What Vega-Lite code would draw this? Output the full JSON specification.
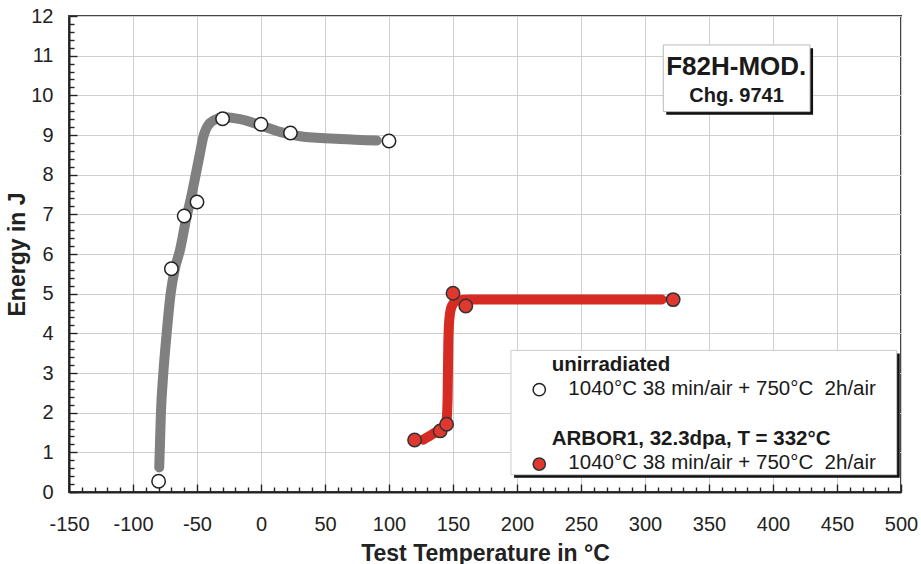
{
  "$schema": "https://vega.github.io/schema/vega-lite/v6.json",
  "width": 832,
  "height": 476,
  "autosize": {"type": "none"},
  "padding": {"left": 69, "top": 16, "right": 20, "bottom": 72},
  "background": "white",
  "config": {
    "font": "Liberation Sans",
    "view": {"stroke": "#444", "strokeWidth": 2},
    "axis": {"gridColor": "#cfcfcf", "gridWidth": 1, "domainColor": "#222", "domainWidth": 2, "tickColor": "#222", "tickWidth": 1.4, "labelFont": "Liberation Sans", "labelFontSize": 20, "labelColor": "#222", "titleFont": "Liberation Sans", "titleFontSize": 23, "titleFontWeight": "bold", "titleColor": "#222"}
  },
  "resolve": {"axis": {"x": "independent", "y": "independent"}},
  "datasets": {
    "unirr_pts": [
      {"T": -80, "E": 0.27}, {"T": -70, "E": 5.63}, {"T": -60, "E": 6.96}, {"T": -50, "E": 7.31},
      {"T": -30, "E": 9.41}, {"T": 0, "E": 9.27}, {"T": 23, "E": 9.05}, {"T": 100, "E": 8.85}
    ],
    "irr_pts": [
      {"T": 120, "E": 1.31}, {"T": 140, "E": 1.54}, {"T": 145, "E": 1.71}, {"T": 150, "E": 5.01},
      {"T": 160, "E": 4.69}, {"T": 322, "E": 4.85}
    ],
    "unirr_curve": [
      {"T": -79.5, "E": 0.62}, {"T": -78.2, "E": 1.99}, {"T": -76.3, "E": 3.0}, {"T": -73.7, "E": 4.0},
      {"T": -70.6, "E": 5.0}, {"T": -67.2, "E": 5.64}, {"T": -63.3, "E": 6.1}, {"T": -58, "E": 6.96},
      {"T": -55.5, "E": 7.3}, {"T": -48.2, "E": 8.45}, {"T": -45, "E": 8.96}, {"T": -40, "E": 9.3},
      {"T": -33.3, "E": 9.42}, {"T": -28, "E": 9.45}, {"T": -16.4, "E": 9.4}, {"T": -0.8, "E": 9.25},
      {"T": 14.8, "E": 9.08}, {"T": 30.5, "E": 8.97}, {"T": 61.7, "E": 8.9}, {"T": 90.4, "E": 8.86}
    ],
    "irr_curve": [
      {"T": 126.8, "E": 1.32}, {"T": 134.6, "E": 1.47}, {"T": 142.4, "E": 1.65}, {"T": 145, "E": 1.82},
      {"T": 145.8, "E": 2.41}, {"T": 146.3, "E": 3.67}, {"T": 147.1, "E": 4.34}, {"T": 149, "E": 4.68},
      {"T": 152.9, "E": 4.82}, {"T": 163.3, "E": 4.85}, {"T": 313, "E": 4.85}
    ]
  },
  "layer": [
    {
      "encoding": {
        "x": {
          "field": "T", "type": "quantitative",
          "scale": {"domain": [-150, 500], "nice": false, "zero": false},
          "axis": {
            "title": "Test Temperature in °C",
            "orient": "bottom",
            "values": [-150,-140,-130,-120,-110,-100,-90,-80,-70,-60,-50,-40,-30,-20,-10,0,10,20,30,40,50,60,70,80,90,100,110,120,130,140,150,160,170,180,190,200,210,220,230,240,250,260,270,280,290,300,310,320,330,340,350,360,370,380,390,400,410,420,430,440,450,460,470,480,490,500],
            "labelExpr": "datum.value % 50 === 0 ? '' + datum.value : ''",
            "labelOverlap": false,
            "labelFlush": false,
            "tickSize": {"condition": {"test": "datum.value % 50 === 0", "value": -8}, "value": -5},
            "gridOpacity": {"condition": {"test": "datum.value % 50 === 0", "value": 1}, "value": 0},
            "labelPadding": 30,
            "titlePadding": 5
          }
        },
        "y": {
          "field": "E", "type": "quantitative",
          "scale": {"domain": [0, 12], "nice": false, "zero": false},
          "axis": {
            "title": "Energy in J",
            "orient": "left",
            "values": [0,0.2,0.4,0.6,0.8,1,1.2,1.4,1.6,1.8,2,2.2,2.4,2.6,2.8,3,3.2,3.4,3.6,3.8,4,4.2,4.4,4.6,4.8,5,5.2,5.4,5.6,5.8,6,6.2,6.4,6.6,6.8,7,7.2,7.4,7.6,7.8,8,8.2,8.4,8.6,8.8,9,9.2,9.4,9.6,9.8,10,10.2,10.4,10.6,10.8,11,11.2,11.4,11.6,11.8,12],
            "labelExpr": "datum.value % 1 === 0 ? '' + datum.value : ''",
            "labelOverlap": false,
            "labelFlush": false,
            "tickSize": {"condition": {"test": "datum.value % 1 === 0", "value": -8}, "value": -5},
            "gridOpacity": {"condition": {"test": "datum.value % 1 === 0", "value": 1}, "value": 0},
            "labelPadding": 24,
            "titlePadding": 1
          }
        }
      },
      "layer": [
        {
          "data": {"name": "unirr_curve"},
          "mark": {"type": "line", "color": "#808080", "strokeWidth": 10, "strokeCap": "round", "interpolate": "monotone"}
        },
        {
          "data": {"name": "irr_curve"},
          "mark": {"type": "line", "color": "#d62b22", "strokeWidth": 10, "strokeCap": "round", "interpolate": "monotone"}
        },
        {
          "data": {"name": "unirr_pts"},
          "mark": {"type": "point", "shape": "circle", "filled": true, "fill": "white", "stroke": "#222", "strokeWidth": 1.5, "size": 180, "opacity": 1}
        },
        {
          "data": {"name": "irr_pts"},
          "mark": {"type": "point", "shape": "circle", "filled": true, "fill": "#e0382e", "stroke": "#333", "strokeWidth": 1.5, "size": 180, "opacity": 1}
        }
      ]
    },
    {
      "data": {"values": [{"k": 1}]},
      "layer": [
        {
          "mark": {"type": "rect", "fill": "#111"},
          "encoding": {"x": {"datum": 316.6, "axis": null}, "x2": {"datum": 431.3}, "y": {"datum": 11.19, "axis": null}, "y2": {"datum": 9.51}}
        },
        {
          "mark": {"type": "rect", "fill": "white", "stroke": "#bbb", "strokeWidth": 1},
          "encoding": {"x": {"datum": 314.3, "axis": null}, "x2": {"datum": 428.9}, "y": {"datum": 11.27, "axis": null}, "y2": {"datum": 9.59}}
        },
        {
          "mark": {"type": "text", "text": "F82H-MOD.", "font": "Liberation Sans", "fontSize": 26, "fontWeight": "bold", "color": "#1a1a1a", "align": "center", "baseline": "alphabetic"},
          "encoding": {"x": {"datum": 371.3, "axis": null}, "y": {"datum": 10.51, "axis": null}}
        },
        {
          "mark": {"type": "text", "text": "Chg. 9741", "font": "Liberation Sans", "fontSize": 20, "fontWeight": "bold", "color": "#1a1a1a", "align": "center", "baseline": "alphabetic"},
          "encoding": {"x": {"datum": 371.5, "axis": null}, "y": {"datum": 9.84, "axis": null}}
        },
        {
          "mark": {"type": "rect", "fill": "#111"},
          "encoding": {"x": {"datum": 197.7, "axis": null}, "x2": {"datum": 499}, "y": {"datum": 3.49, "axis": null}, "y2": {"datum": 0.36}}
        },
        {
          "mark": {"type": "rect", "fill": "white", "stroke": "#ccc", "strokeWidth": 1},
          "encoding": {"x": {"datum": 195.3, "axis": null}, "x2": {"datum": 496.6}, "y": {"datum": 3.57, "axis": null}, "y2": {"datum": 0.436}}
        },
        {
          "mark": {"type": "text", "text": "unirradiated", "font": "Liberation Sans", "fontSize": 20.5, "fontWeight": "bold", "color": "#1a1a1a", "align": "left", "baseline": "alphabetic"},
          "encoding": {"x": {"datum": 227.1, "axis": null}, "y": {"datum": 3.06, "axis": null}}
        },
        {
          "mark": {"type": "text", "text": "1040°C 38 min/air + 750°C\u00a0 2h/air", "font": "Liberation Sans", "fontSize": 20.5, "color": "#1a1a1a", "align": "left", "baseline": "alphabetic"},
          "encoding": {"x": {"datum": 240.1, "axis": null}, "y": {"datum": 2.45, "axis": null}}
        },
        {
          "mark": {"type": "text", "text": "ARBOR1, 32.3dpa, T = 332°C", "font": "Liberation Sans", "fontSize": 20.5, "fontWeight": "bold", "color": "#1a1a1a", "align": "left", "baseline": "alphabetic"},
          "encoding": {"x": {"datum": 227.1, "axis": null}, "y": {"datum": 1.19, "axis": null}}
        },
        {
          "mark": {"type": "text", "text": "1040°C 38 min/air + 750°C\u00a0 2h/air", "font": "Liberation Sans", "fontSize": 20.5, "color": "#1a1a1a", "align": "left", "baseline": "alphabetic"},
          "encoding": {"x": {"datum": 240.1, "axis": null}, "y": {"datum": 0.58, "axis": null}}
        },
        {
          "mark": {"type": "point", "shape": "circle", "filled": true, "fill": "white", "stroke": "#222", "strokeWidth": 1.5, "size": 150, "opacity": 1},
          "encoding": {"x": {"datum": 217.4, "axis": null}, "y": {"datum": 2.58, "axis": null}}
        },
        {
          "mark": {"type": "point", "shape": "circle", "filled": true, "fill": "#e0382e", "stroke": "#333", "strokeWidth": 1.5, "size": 150, "opacity": 1},
          "encoding": {"x": {"datum": 217.4, "axis": null}, "y": {"datum": 0.705, "axis": null}}
        }
      ]
    }
  ]
}
